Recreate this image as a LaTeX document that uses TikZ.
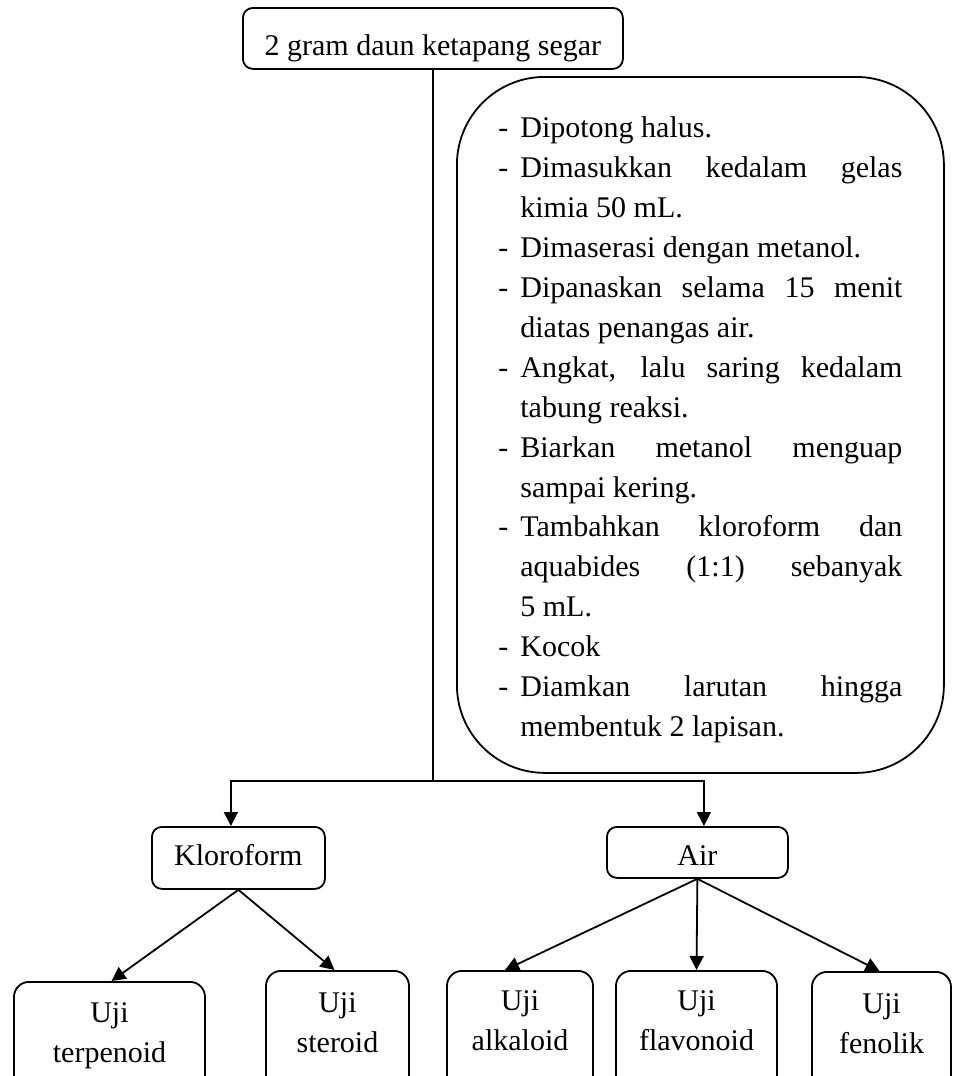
\documentclass[tikz,border=0pt]{standalone}
\usepackage{fontspec}
\setmainfont{Liberation Serif}
\usetikzlibrary{arrows.meta}
\newcommand{\firststep}{\hangindent=22pt\hangafter=1\makebox[22pt][l]{-}}
\newcommand{\stepitem}{\par\noindent\hangindent=22pt\hangafter=1\makebox[22pt][l]{-}}
\begin{document}
\begin{tikzpicture}[x=1pt,y=-1pt,
  every node/.style={font=\fontsize{30}{40}\selectfont},
  box/.style={draw, line width=1.8pt, inner sep=0pt, anchor=north west},
  testbox/.style={draw, line width=1.8pt, inner sep=0pt, anchor=north, rounded corners=15pt, align=center, text depth=150pt},
  conn/.style={line width=1.8pt},
  arr/.style={line width=1.8pt, -{Triangle[length=14pt,width=14pt]}}]
\useasboundingbox (0,0) rectangle (953,1076);
\clip (0,0) rectangle (953,1076);

\node[box, rounded corners=10pt, minimum width=380pt, text height=48pt, text depth=13pt] (top) at (242,7) {2 gram daun ketapang segar};

\node[box, rounded corners=88pt, inner xsep=41.5pt, text width=404pt, align=justify,
      text height=61pt, text depth=635pt,
      font=\fontsize{30}{39.9}\selectfont] (proc) at (456,76)
{\tolerance=10000 \hbadness=10000 \parskip=0pt\firststep Dipotong halus.%
\stepitem Dimasukkan kedalam gelas\linebreak kimia 50 mL.%
\stepitem Dimaserasi dengan metanol.%
\stepitem Dipanaskan selama 15 menit\linebreak diatas penangas air.%
\stepitem Angkat, lalu saring kedalam\linebreak tabung reaksi.%
\stepitem Biarkan metanol menguap\linebreak sampai kering.%
\stepitem Tambahkan kloroform dan\linebreak aquabides (1:1) sebanyak\linebreak 5 mL.%
\stepitem Kocok%
\stepitem Diamkan larutan hingga\linebreak membentuk 2 lapisan.\par};

\node[box, rounded corners=10pt, minimum width=173pt, text height=39pt, text depth=23pt] (klor) at (151,826) {Kloroform};
\node[box, rounded corners=10pt, minimum width=181pt, text height=39pt, text depth=12pt] (air) at (606,826) {Air};

\node[testbox, text width=191pt, text height=41pt] (terp) at (109.5,981) {Uji\\terpenoid};
\node[testbox, text width=143pt, text height=42pt] (ster) at (337.5,970) {Uji\\steroid};
\node[testbox, text width=146pt, text height=40pt] (alk) at (520,970) {Uji\\alkaloid};
\node[testbox, text width=161pt, text height=40pt] (flav) at (696.5,970) {Uji\\flavonoid};
\node[testbox, text width=139pt, text height=42pt] (fen) at (881.5,971) {Uji\\fenolik};

\coordinate (split) at (top.south |- 0,781);
\draw[conn] (top.south) -- (split);
\draw[arr] (split) -| ([xshift=-7.5pt]klor.north);
\draw[arr] (split) -| ([xshift=6.5pt]air.north);
\draw[arr] (klor.south) -- ([xshift=2pt]terp.north);
\draw[arr] (klor.south) -- ([xshift=-3pt]ster.north);
\draw[arr] (air.south) -- ([xshift=-15pt]alk.north);
\draw[arr] (air.south) -- (flav.north);
\draw[arr] (air.south) -- ([xshift=-2pt]fen.north);
\end{tikzpicture}
\end{document}
